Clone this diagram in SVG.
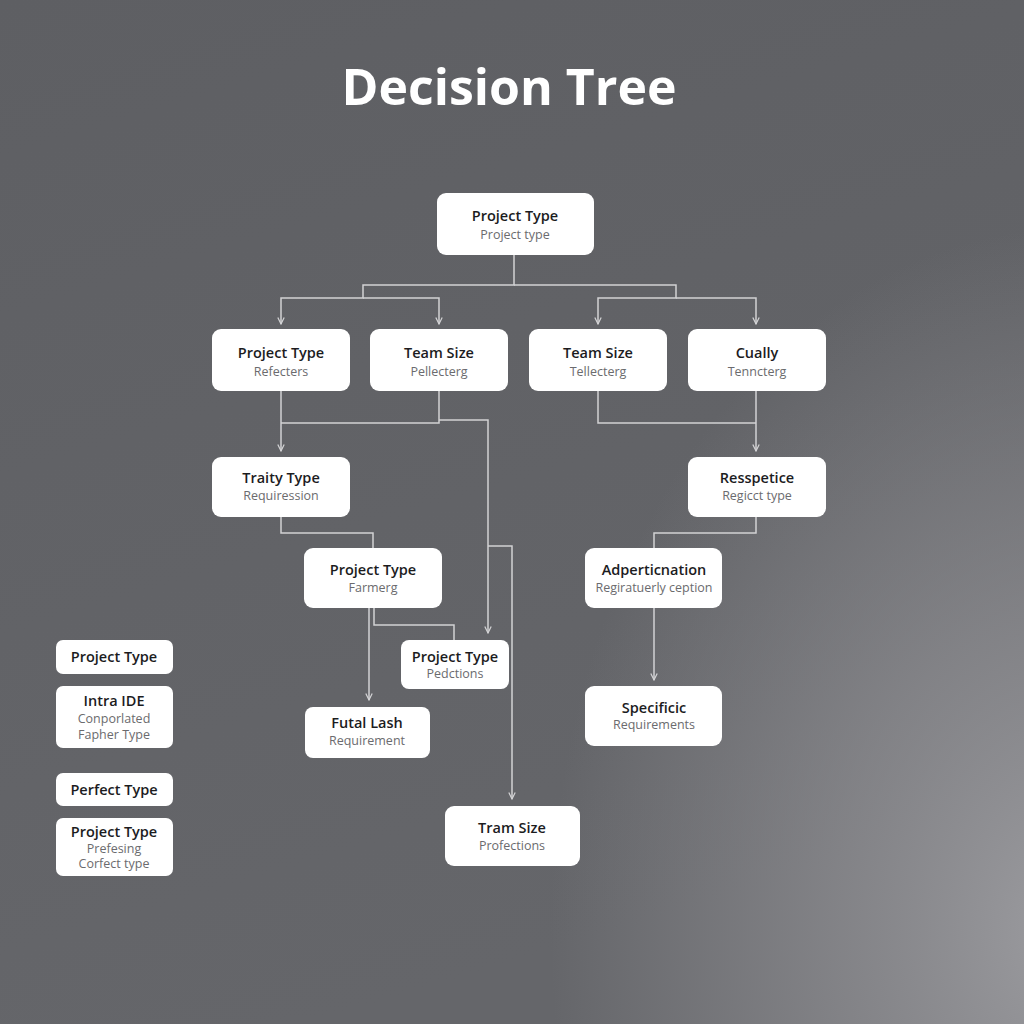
<svg xmlns="http://www.w3.org/2000/svg" width="1024" height="1024" viewBox="0 0 1024 1024">
<defs>
<linearGradient id="bg" x1="0" y1="0" x2="0.3" y2="1">
<stop offset="0" stop-color="#5e5f63"/>
<stop offset="1" stop-color="#65666a"/>
</linearGradient>
<radialGradient id="glow" gradientUnits="userSpaceOnUse" cx="1070" cy="930" r="520" gradientTransform="translate(1070 930) scale(1 1.35) translate(-1070 -930)">
<stop offset="0" stop-color="#9c9ca0" stop-opacity="1"/>
<stop offset="0.45" stop-color="#8c8c90" stop-opacity="0.75"/>
<stop offset="1" stop-color="#8c8c90" stop-opacity="0"/>
</radialGradient>
<marker id="arr" viewBox="0 0 10 10" refX="9" refY="5" markerWidth="8" markerHeight="8" markerUnits="userSpaceOnUse" orient="auto">
<path d="M1,1 L9,5 L1,9" fill="none" stroke="#d4d4d6" stroke-width="1.5"/>
</marker>
</defs>
<style>
.box{fill:#ffffff;}
.t{font-family:"Open Sans","Noto Sans",sans-serif;font-weight:600;font-size:14.5px;fill:#1c1c1e;text-anchor:middle;}
.s{font-family:"Open Sans","Noto Sans",sans-serif;font-weight:400;font-size:12.5px;fill:#6b6b6e;text-anchor:middle;}
.c{fill:none;stroke:#d2d2d4;stroke-width:1.5;}
.a{marker-end:url(#arr);}
.title{font-family:"Open Sans","Noto Sans",sans-serif;font-weight:700;font-size:50px;fill:#ffffff;text-anchor:middle;}
</style>
<rect width="1024" height="1024" fill="url(#bg)"/>
<rect width="1024" height="1024" fill="url(#glow)"/>
<text class="title" x="509" y="105">Decision Tree</text>
<g id="connectors">
<path class="c a" d="M514,255 V285 H363 V298 H281 V324"/>
<path class="c a" d="M363,298 H439 V324"/>
<path class="c a" d="M514,285 H676 V298 H598 V324"/>
<path class="c a" d="M676,298 H756 V324"/>
<path class="c a" d="M281,391 V451"/>
<path class="c" d="M439,391 V423 H281"/>
<path class="c a" d="M439,420 H488 V633"/>
<path class="c a" d="M488,546 H512 V799"/>
<path class="c" d="M281,517 V533 H373 V548"/>
<path class="c a" d="M369,608 V700"/>
<path class="c" d="M374,608 V625 H454 V640"/>
<path class="c" d="M598,391 V423 H756"/>
<path class="c a" d="M756,391 V451"/>
<path class="c" d="M756,517 V533 H654 V548"/>
<path class="c a" d="M654,608 V680"/>
</g>
<g id="root"><rect class="box" x="437" y="193" width="157" height="62" rx="9"/><text class="t" x="515" y="221">Project Type</text><text class="s" x="515" y="239">Project type</text></g>
<g id="n1"><rect class="box" x="212" y="329" width="138" height="62" rx="9"/><text class="t" x="281" y="358">Project Type</text><text class="s" x="281" y="376">Refecters</text></g>
<g id="n2"><rect class="box" x="370" y="329" width="138" height="62" rx="9"/><text class="t" x="439" y="358">Team Size</text><text class="s" x="439" y="376">Pellecterg</text></g>
<g id="n3"><rect class="box" x="529" y="329" width="138" height="62" rx="9"/><text class="t" x="598" y="358">Team Size</text><text class="s" x="598" y="376">Tellecterg</text></g>
<g id="n4"><rect class="box" x="688" y="329" width="138" height="62" rx="9"/><text class="t" x="757" y="358">Cually</text><text class="s" x="757" y="376">Tenncterg</text></g>
<g id="n5"><rect class="box" x="212" y="457" width="138" height="60" rx="9"/><text class="t" x="281" y="483">Traity Type</text><text class="s" x="281" y="500">Requiression</text></g>
<g id="n6"><rect class="box" x="688" y="457" width="138" height="60" rx="9"/><text class="t" x="757" y="483">Resspetice</text><text class="s" x="757" y="500">Regicct type</text></g>
<g id="n7"><rect class="box" x="304" y="548" width="138" height="60" rx="9"/><text class="t" x="373" y="575">Project Type</text><text class="s" x="373" y="592">Farmerg</text></g>
<g id="n8"><rect class="box" x="585" y="548" width="137" height="60" rx="9"/><text class="t" x="654" y="575">Adperticnation</text><text class="s" x="654" y="592">Regiratuerly ception</text></g>
<g id="n9"><rect class="box" x="401" y="640" width="108" height="49" rx="8"/><text class="t" x="455" y="662">Project Type</text><text class="s" x="455" y="678">Pedctions</text></g>
<g id="n10"><rect class="box" x="305" y="707" width="125" height="51" rx="8"/><text class="t" x="367" y="728">Futal Lash</text><text class="s" x="367" y="745">Requirement</text></g>
<g id="n11"><rect class="box" x="585" y="686" width="137" height="60" rx="9"/><text class="t" x="654" y="713">Specificic</text><text class="s" x="654" y="729">Requirements</text></g>
<g id="n12"><rect class="box" x="445" y="806" width="135" height="60" rx="9"/><text class="t" x="512" y="833">Tram Size</text><text class="s" x="512" y="850">Profections</text></g>
<g id="l1"><rect class="box" x="56" y="640" width="117" height="34" rx="7"/><text class="t" x="114" y="662">Project Type</text></g>
<g id="l2"><rect class="box" x="56" y="686" width="117" height="62" rx="7"/><text class="t" x="114" y="706">Intra IDE</text><text class="s" x="114" y="723">Conporlated</text><text class="s" x="114" y="739">Fapher Type</text></g>
<g id="l3"><rect class="box" x="56" y="773" width="117" height="33" rx="7"/><text class="t" x="114" y="795">Perfect Type</text></g>
<g id="l4"><rect class="box" x="56" y="818" width="117" height="58" rx="7"/><text class="t" x="114" y="837">Project Type</text><text class="s" x="114" y="853">Prefesing</text><text class="s" x="114" y="868">Corfect type</text></g>
</svg>
